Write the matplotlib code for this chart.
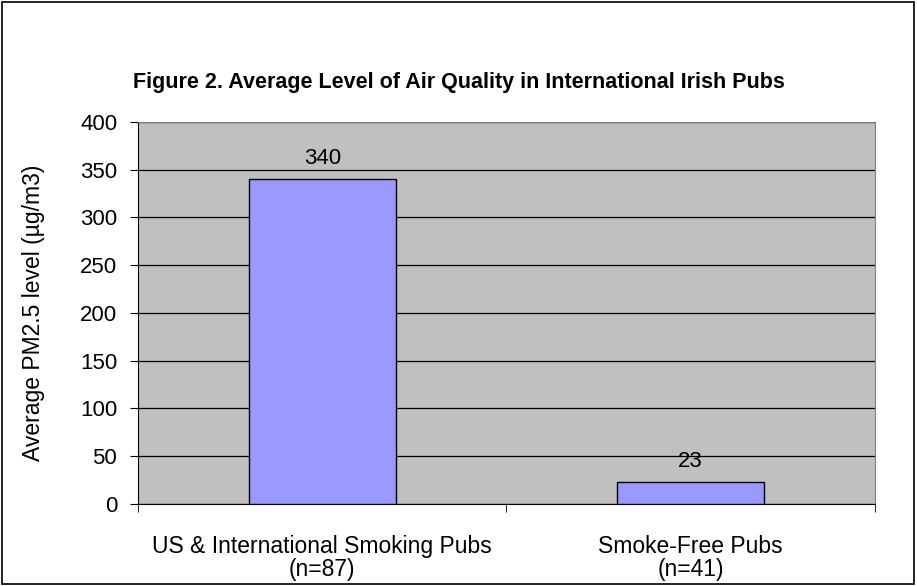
import matplotlib.pyplot as plt
from matplotlib.patches import Rectangle
import numpy as np

plt.rcParams['font.family'] = ['Liberation Sans', 'DejaVu Sans']

categories = ['US & International Smoking Pubs\n(n=87)', 'Smoke-Free Pubs\n(n=41)']
pm25 = [340, 23]
yticks = [0, 50, 100, 150, 200, 250, 300, 350, 400]

fig = plt.figure(figsize=(9.17, 5.86), dpi=100)
fig.patches.append(Rectangle((0.002, 0.003), 0.995, 0.994, transform=fig.transFigure,
                             fill=False, edgecolor='black', linewidth=1.2))

ax = fig.add_axes([0.1505, 0.140, 0.8035, 0.652])
ax.set_facecolor('#C0C0C0')
x = np.arange(len(categories))
bars = ax.bar(x, pm25, width=0.4, color='#9999FF', edgecolor='black', linewidth=1, zorder=3)

for b, v in zip(bars, pm25):
    ax.annotate(str(v), (b.get_x() + b.get_width() / 2, v), xytext=(0, 7),
                textcoords='offset points', ha='center', va='bottom', fontsize=16)

ax.set_xlim(-0.5, 1.5)
ax.set_ylim(0, 400)
ax.set_yticks(yticks)
ax.tick_params(axis='y', labelsize=16, length=6, direction='out', pad=9)
ax.yaxis.grid(True, color='black', linewidth=0.9, zorder=0)
ax.set_axisbelow(True)

ax.set_xticks(x)
ax.set_xticklabels(categories, fontsize=16.5, linespacing=1.05)
ax.set_xticks([-0.5, 0.5, 1.5], minor=True)
ax.tick_params(axis='x', which='major', length=0, pad=22)
ax.tick_params(axis='x', which='minor', length=6, direction='out')

for s in ['top', 'right']:
    ax.spines[s].set_color('#808080')
ax.spines['left'].set_color('black')
ax.spines['bottom'].set_color('black')

ax.set_ylabel('Average PM2.5 level (µg/m3)', fontsize=16.5, labelpad=25)
fig.text(0.5, 0.86, 'Figure 2. Average Level of Air Quality in International Irish Pubs',
         ha='center', va='center', fontsize=15.5, fontweight='bold')

fig.savefig('out.png', dpi=100)
